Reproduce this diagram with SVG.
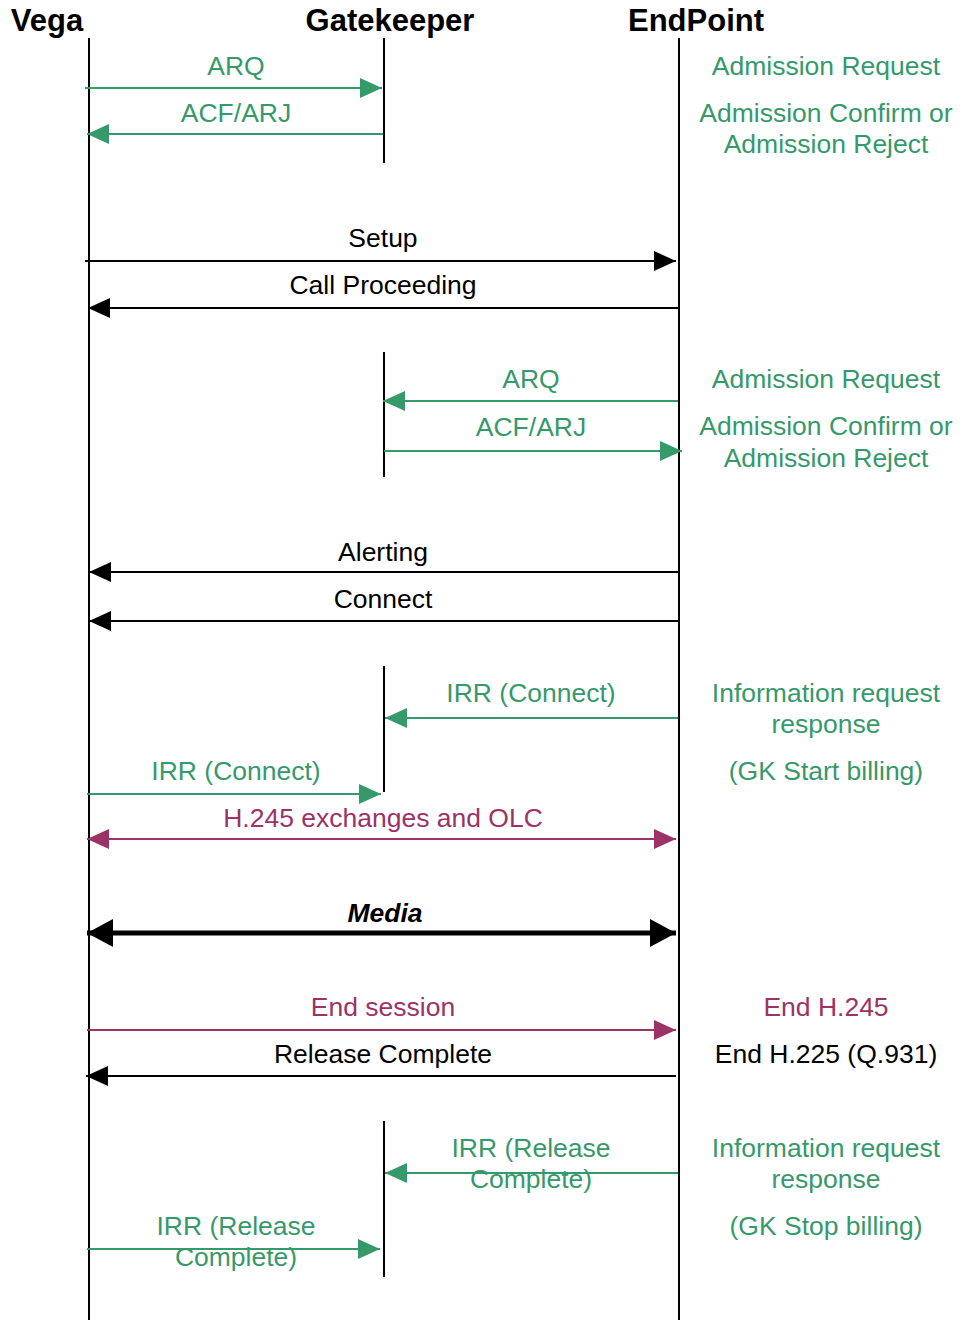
<svg xmlns="http://www.w3.org/2000/svg" width="965" height="1320" viewBox="0 0 965 1320">
<style>
text{font-family:"Liberation Sans",Arial,sans-serif;font-size:26.5px;text-anchor:middle}
.hd{font-size:31px;font-weight:bold;fill:#000}
.g{fill:#36996a}
.m{fill:#9b3366}
.k{fill:#000}
.life{stroke:#000;stroke-width:2}
.ga{stroke:#36996a;stroke-width:2;fill:none}
.ka{stroke:#000;stroke-width:2;fill:none}
.ma{stroke:#9b3366;stroke-width:2;fill:none}
.xa{stroke:#000;stroke-width:5;fill:none}
</style>
<defs>
<marker id="ag" markerUnits="userSpaceOnUse" markerWidth="22" markerHeight="20" refX="22" refY="10" orient="auto-start-reverse"><path d="M0,0 L22,10 L0,20 z" fill="#36996a"/></marker>
<marker id="ak" markerUnits="userSpaceOnUse" markerWidth="22" markerHeight="20" refX="22" refY="10" orient="auto-start-reverse"><path d="M0,0 L22,10 L0,20 z" fill="#000"/></marker>
<marker id="am" markerUnits="userSpaceOnUse" markerWidth="22" markerHeight="20" refX="22" refY="10" orient="auto-start-reverse"><path d="M0,0 L22,10 L0,20 z" fill="#9b3366"/></marker>
<marker id="ax" markerUnits="userSpaceOnUse" markerWidth="26" markerHeight="28" refX="26" refY="14" orient="auto-start-reverse"><path d="M0,0 L26,14 L0,28 z" fill="#000"/></marker>
</defs>
<g id="vega"><text class="hd" x="47" y="31">Vega</text><line class="life" x1="89" y1="38" x2="89" y2="1320"/></g>
<g id="gatekeeper"><text class="hd" x="390" y="31">Gatekeeper</text>
<line class="life" x1="384" y1="38" x2="384" y2="163"/>
<line class="life" x1="384" y1="352" x2="384" y2="477"/>
<line class="life" x1="384" y1="666" x2="384" y2="792"/>
<line class="life" x1="384" y1="1121" x2="384" y2="1277"/></g>
<g id="endpoint"><text class="hd" x="696" y="31">EndPoint</text><line class="life" x1="679" y1="38" x2="679" y2="1320"/></g>
<g id="connectors">
<line class="ga" x1="85" y1="88" x2="382" y2="88" marker-end="url(#ag)"/>
<line class="ga" x1="383" y1="134" x2="87" y2="134" marker-end="url(#ag)"/>
<line class="ka" x1="85" y1="261" x2="676" y2="261" marker-end="url(#ak)"/>
<line class="ka" x1="679" y1="308" x2="88" y2="308" marker-end="url(#ak)"/>
<line class="ga" x1="678" y1="401" x2="383" y2="401" marker-end="url(#ag)"/>
<line class="ga" x1="384" y1="451" x2="682" y2="451" marker-end="url(#ag)"/>
<line class="ka" x1="679" y1="572" x2="89" y2="572" marker-end="url(#ak)"/>
<line class="ka" x1="679" y1="621" x2="89" y2="621" marker-end="url(#ak)"/>
<line class="ga" x1="678" y1="718" x2="385" y2="718" marker-end="url(#ag)"/>
<line class="ga" x1="87" y1="794" x2="381" y2="794" marker-end="url(#ag)"/>
<line class="ma" x1="87" y1="839" x2="676" y2="839" marker-start="url(#am)" marker-end="url(#am)"/>
<line class="xa" x1="87" y1="933" x2="676" y2="933" marker-start="url(#ax)" marker-end="url(#ax)"/>
<line class="ma" x1="87" y1="1030" x2="676" y2="1030" marker-end="url(#am)"/>
<line class="ka" x1="676" y1="1076" x2="86" y2="1076" marker-end="url(#ak)"/>
<line class="ga" x1="678" y1="1173" x2="385" y2="1173" marker-end="url(#ag)"/>
<line class="ga" x1="87" y1="1249" x2="380" y2="1249" marker-end="url(#ag)"/>
</g>
<g id="labels">
<text class="g" x="236" y="75">ARQ</text>
<text class="g" x="236" y="122">ACF/ARJ</text>
<text class="g" x="826" y="75">Admission Request</text>
<text class="g" x="826" y="122">Admission Confirm or</text>
<text class="g" x="826" y="153">Admission Reject</text>
<text class="k" x="383" y="247">Setup</text>
<text class="k" x="383" y="294">Call Proceeding</text>
<text class="g" x="531" y="388">ARQ</text>
<text class="g" x="531" y="436">ACF/ARJ</text>
<text class="g" x="826" y="388">Admission Request</text>
<text class="g" x="826" y="435">Admission Confirm or</text>
<text class="g" x="826" y="467">Admission Reject</text>
<text class="k" x="383" y="561">Alerting</text>
<text class="k" x="383" y="608">Connect</text>
<text class="g" x="531" y="702">IRR (Connect)</text>
<text class="g" x="826" y="702">Information request</text>
<text class="g" x="826" y="733">response</text>
<text class="g" x="826" y="780">(GK Start billing)</text>
<text class="g" x="236" y="780">IRR (Connect)</text>
<text class="m" x="383" y="827">H.245 exchanges and OLC</text>
<text class="k" x="385" y="922" font-style="italic" font-weight="bold">Media</text>
<text class="m" x="383" y="1016">End session</text>
<text class="m" x="826" y="1016">End H.245</text>
<text class="k" x="383" y="1063">Release Complete</text>
<text class="k" x="826" y="1063">End H.225 (Q.931)</text>
<text class="g" x="531" y="1157">IRR (Release</text>
<text class="g" x="531" y="1188">Complete)</text>
<text class="g" x="826" y="1157">Information request</text>
<text class="g" x="826" y="1188">response</text>
<text class="g" x="826" y="1235">(GK Stop billing)</text>
<text class="g" x="236" y="1235">IRR (Release</text>
<text class="g" x="236" y="1266">Complete)</text>
</g>
</svg>
